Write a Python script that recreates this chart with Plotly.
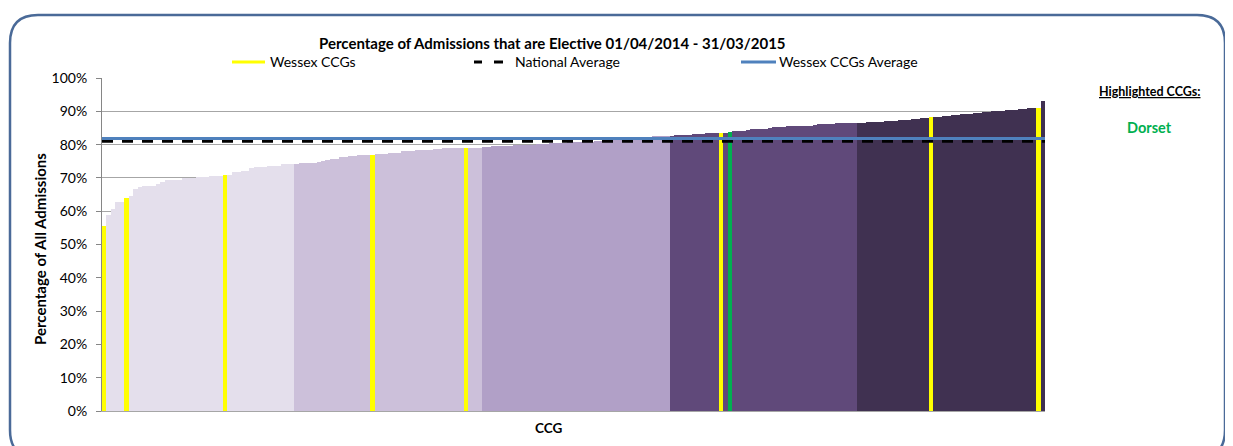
import plotly.graph_objects as go

# ---------------- data ----------------
# % of admissions that are elective, one value per CCG, sorted ascending (211 CCGs)
pct_elective = [
    55.7, 58.9, 60.7, 62.9, 62.9, 64.0, 64.6, 66.6, 67.2, 67.6,
    67.6, 67.7, 68.2, 68.9, 69.3, 69.3, 69.4, 69.4, 69.9, 69.9,
    70.0, 70.4, 70.4, 70.4, 70.5, 70.5, 70.6, 70.9, 70.9, 71.8,
    71.8, 72.2, 72.2, 72.9, 73.3, 73.3, 73.4, 73.6, 73.6, 73.7,
    74.2, 74.2, 74.2,
    74.3, 74.5, 74.5, 74.5, 74.5, 74.9, 75.2, 75.4, 75.8, 75.8,
    76.2, 76.2, 76.5, 76.5, 76.8, 76.8, 76.8, 76.9, 77.1, 77.1,
    77.2, 77.4, 77.4, 77.6, 78.0, 78.0, 78.1, 78.3, 78.3, 78.4,
    78.4, 78.6, 78.6, 78.9, 78.9, 78.9, 78.9, 78.9, 79.0, 79.0,
    79.0, 79.1,
    79.4, 79.4, 79.5, 79.5, 79.6, 79.6, 79.7, 79.9, 79.9, 79.9,
    79.9, 79.9, 80.2, 80.3, 80.3, 80.4, 80.5, 80.6, 80.6, 80.7,
    80.7, 80.8, 80.8, 80.9, 80.9, 81.0, 81.0, 81.2, 81.2, 81.3,
    81.4, 81.5, 81.6, 81.8, 81.9, 82.0, 82.1, 82.3, 82.5, 82.5,
    82.5, 82.5,
    82.5, 82.9, 82.9, 82.9, 82.9, 83.2, 83.2, 83.2, 83.4, 83.4,
    83.4, 83.5, 83.5, 83.8, 84.1, 84.1, 84.1, 84.4, 84.7, 84.7,
    84.7, 84.7, 85.0, 85.3, 85.3, 85.3, 85.6, 85.6, 85.6, 85.6,
    85.6, 85.6, 85.9, 86.2, 86.2, 86.2, 86.2, 86.5, 86.5, 86.5,
    86.5, 86.5,
    86.6, 86.6, 86.7, 86.7, 86.7, 86.7, 87.0, 87.0, 87.0, 87.4,
    87.4, 87.4, 87.7, 87.7, 88.0, 88.0, 88.2, 88.3, 88.3, 88.6,
    88.6, 88.9, 88.9, 89.2, 89.2, 89.2, 89.5, 89.5, 89.8, 89.8,
    90.1, 90.1, 90.1, 90.4, 90.4, 90.4, 90.7, 90.7, 90.9, 90.9,
    91.0, 93.2,
]
ccg_rank = list(range(len(pct_elective)))
wessex_ranks = [0, 5, 27, 60, 81, 138, 185, 209]
dorset_rank = 140
quintile_starts = [0, 43, 85, 127, 169]
national_average = 81.0
wessex_average = 81.8

# ---------------- styles ----------------
quintile_colors = ["#E4DFEC", "#CCC0DA", "#B1A0C7", "#60497A", "#403151"]
YELLOW = "#FFFF00"
GREEN = "#00B050"
FONT = "Lato"

OFF = 8  # page body margin
W, H = 1233 - OFF, 446 - OFF
# plot area in page pixels
L, R, T, B = 102, 1045, 78, 411


def px(x):
    return (x - L) / (R - L)


def py(y):
    return (B - y) / (B - T)


colors = []
for r in ccg_rank:
    q = sum(1 for s in quintile_starts if r >= s) - 1
    c = quintile_colors[q]
    if r in wessex_ranks:
        c = YELLOW
    if r == dorset_rank:
        c = GREEN
    colors.append(c)

fig = go.Figure()
fig.add_trace(go.Bar(
    x=ccg_rank, y=pct_elective, marker=dict(color=colors, line=dict(width=0)),
    width=1.0, showlegend=False, hoverinfo="y",
))
x_ends = [ccg_rank[0] - 0.5, ccg_rank[-1] + 0.5]
fig.add_trace(go.Scatter(
    x=x_ends, y=[national_average] * 2, mode="lines",
    line=dict(color="black", width=3, dash="11px,9px"), showlegend=False,
))
fig.add_trace(go.Scatter(
    x=x_ends, y=[wessex_average] * 2, mode="lines",
    line=dict(color="#4F81BD", width=3), showlegend=False,
))

shapes = []
# rounded outer border
x0, x1, y0, y1, rr = 10, 1225, 15, 458, 28
def P(x, y):
    return f"{px(x):.5f},{py(y):.5f}"
path = (
    f"M {P(x0, y0 + rr)} Q {P(x0, y0)} {P(x0 + rr, y0)} "
    f"L {P(x1 - rr, y0)} Q {P(x1, y0)} {P(x1, y0 + rr)} "
    f"L {P(x1, y1 - rr)} Q {P(x1, y1)} {P(x1 - rr, y1)} "
    f"L {P(x0 + rr, y1)} Q {P(x0, y1)} {P(x0, y1 - rr)} Z"
)
shapes.append(dict(type="path", xref="paper", yref="paper", path=path,
                   line=dict(color="#4A6A98", width=2.5), layer="above"))

# manual legend
ly = py(62)
shapes.append(dict(type="line", xref="paper", yref="paper", x0=px(232), x1=px(265),
                   y0=ly, y1=ly, line=dict(color=YELLOW, width=3)))
shapes.append(dict(type="line", xref="paper", yref="paper", x0=px(474), x1=px(482),
                   y0=ly, y1=ly, line=dict(color="black", width=3)))
shapes.append(dict(type="line", xref="paper", yref="paper", x0=px(494), x1=px(503),
                   y0=ly, y1=ly, line=dict(color="black", width=3)))
shapes.append(dict(type="line", xref="paper", yref="paper", x0=px(741), x1=px(776),
                   y0=ly, y1=ly, line=dict(color="#4F81BD", width=3)))

ann = []
def text(x, y, s, size=14, anchor="center", color="black", bold=False, angle=0):
    ann.append(dict(x=px(x), y=py(y), xref="paper", yref="paper", text=(f"<b>{s}</b>" if bold else s),
                    showarrow=False, xanchor=anchor, yanchor="middle", textangle=angle,
                    font=dict(family=FONT, size=size, color=color)))

text(552, 43, "Percentage of Admissions that are Elective 01/04/2014 - 31/03/2015", size=15, bold=True)
text(268, 62, "Wessex CCGs", anchor="left")
text(513, 62, "National Average", anchor="left")
text(777, 62, "Wessex CCGs Average", anchor="left")
text(40, 249, "Percentage of All Admissions", size=15, bold=True, angle=-90)
text(548, 428, "CCG", size=13.5, bold=True)
text(1149, 91, "<u>Highlighted CCGs:</u>", size=12.5, bold=True)
text(1149, 128, "Dorset", size=14.5, bold=True, color=GREEN)

fig.update_layout(
    width=W, height=H, autosize=False,
    margin=dict(l=L - OFF, r=W - (R - OFF), t=T - OFF, b=H - (B - OFF), pad=0),
    paper_bgcolor="white", plot_bgcolor="white",
    bargap=0, shapes=shapes, annotations=ann,
    font=dict(family=FONT, size=14, color="black"),
)
fig.update_xaxes(range=x_ends, showticklabels=False, showgrid=False, zeroline=False,
                 showline=True, linecolor="#A6A6A6", linewidth=1, ticks="", automargin=False)
fig.update_yaxes(range=[0, 100], dtick=10, ticksuffix="%", showgrid=True, gridcolor="#A6A6A6",
                 gridwidth=1, zeroline=False, showline=True, linecolor="#868686", linewidth=1,
                 ticks="outside", ticklen=5, tickcolor="#868686", automargin=False,
                 tickfont=dict(family=FONT, size=14, color="black"), ticklabelstandoff=6)

fig.write_html("out.html")
